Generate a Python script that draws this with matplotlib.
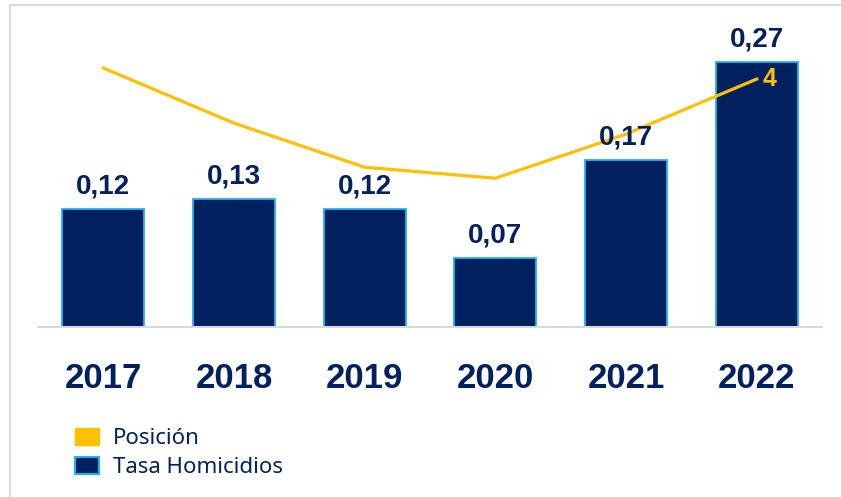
import matplotlib.pyplot as plt
from matplotlib.patches import Patch, Rectangle

# data
years = ["2017", "2018", "2019", "2020", "2021", "2022"]
tasa = [0.12, 0.13, 0.12, 0.07, 0.17, 0.27]
tasa_labels = ["0,12", "0,13", "0,12", "0,07", "0,17", "0,27"]
posicion = [3, 8, 12, 13, 9, 4]

navy = "#002060"
cyan = "#1FB4F0"
gold = "#FFC000"

fig = plt.figure(figsize=(8.41, 4.97), dpi=100)
fig.patches.append(Rectangle((10 / 841, -0.1), 1.2, 1.1 - 5 / 497, transform=fig.transFigure,
                             fill=False, edgecolor="#D9D9D9", linewidth=1.5))

ax = fig.add_axes([38 / 841, 1 - 327 / 497, 784 / 841, 307 / 497])
x = list(range(len(years)))
bars = ax.bar(x, tasa, width=0.63, color=navy, edgecolor=cyan, linewidth=1.3, zorder=2)

ax.set_xlim(-0.5, 5.5)
ax.set_ylim(0, 0.313)
ax.set_xticks(x)
ax.set_xticklabels(years, fontsize=25, fontweight="bold", color=navy, family="Liberation Sans")
ax.tick_params(axis="x", length=0, pad=25)
ax.set_yticks([])
for s in ["top", "right", "left"]:
    ax.spines[s].set_visible(False)
ax.spines["bottom"].set_color("#D9D9D9")
ax.spines["bottom"].set_linewidth(1.5)

# position line on an inverted secondary axis
ax2 = ax.twinx()
ax2.plot(x, posicion, color=gold, linewidth=2.3, zorder=3)
ax2.set_ylim(26.5, -1.36)
ax2.set_yticks([])
for s in ax2.spines.values():
    s.set_visible(False)
ax2.annotate(str(posicion[-1]), (x[-1], posicion[-1]), xytext=(4, 0), textcoords="offset points",
             ha="left", va="center", fontsize=18, fontweight="bold", color=gold,
             family="Liberation Sans")

# value labels, drawn on the top axes so they sit above the line
for b, lab in zip(bars, tasa_labels):
    ax2.annotate(lab, (b.get_x() + b.get_width() / 2, b.get_height()), xycoords=ax.transData,
                 xytext=(0, 7), textcoords="offset points", ha="center", va="bottom",
                 fontsize=20, fontweight="bold", color=navy, family="Liberation Sans",
                 zorder=5)

handles = [Patch(facecolor=gold, edgecolor=gold, label="Posición"),
           Patch(facecolor=navy, edgecolor=cyan, linewidth=1.5, label="Tasa Homicidios")]
fig.legend(handles=handles, loc="lower left", bbox_to_anchor=(0.076, 0.016), frameon=False,
           prop={"family": "Noto Sans", "size": 16}, labelcolor=navy, borderpad=0,
           handlelength=1.1, handleheight=0.8, handletextpad=0.6, labelspacing=0.35)

fig.savefig("out.png", dpi=100)
